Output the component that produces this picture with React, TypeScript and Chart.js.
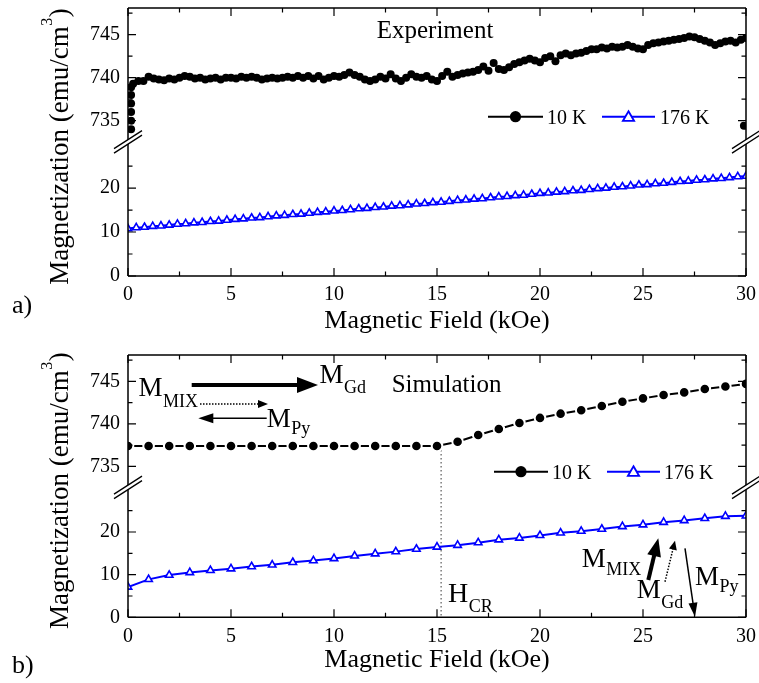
import React, { useEffect, useRef } from 'react';
import { Chart, registerables } from 'chart.js';

Chart.register(...registerables);

const SERIF = '"Liberation Serif", "Times New Roman", Times, serif';
const BLUE = '#0000ff';

// ---------------- data ----------------
const seriesLabels = ['10 K', '176 K'];
const xTickValues = [0, 5, 10, 15, 20, 25, 30];
const xMinorTicks = [2.5, 7.5, 12.5, 17.5, 22.5, 27.5];
const upperTickValues = [735, 740, 745];
const upperMinorTicks = [737.5, 742.5, 747.5];
const lowerTickValues = [0, 10, 20];
const lowerMinorTicks = [5, 15, 25];
const upperRange = [733, 748.1];
const lowerRange = [0, 31.4];

// a) Experiment, 10 K
const expField10 = [
  0.15, 0.15, 0.15, 0.15, 0.15, 0.15,
  0.25, 0.5, 0.75, 1, 1.25, 1.5, 1.75, 2, 2.25, 2.5,
  2.75, 3, 3.25, 3.5, 3.75, 4, 4.25, 4.5, 4.75, 5,
  5.25, 5.5, 5.75, 6, 6.25, 6.5, 6.75, 7, 7.25, 7.5,
  7.75, 8, 8.25, 8.5, 8.75, 9, 9.25, 9.5, 9.75, 10,
  10.25, 10.5, 10.75, 11, 11.25, 11.5, 11.75, 12, 12.25, 12.5,
  12.75, 13, 13.25, 13.5, 13.75, 14, 14.25, 14.5, 14.75, 15,
  15.25, 15.5, 15.75, 16, 16.25, 16.5, 16.75, 17, 17.25, 17.5,
  17.75, 18, 18.25, 18.5, 18.75, 19, 19.25, 19.5, 19.75, 20,
  20.25, 20.5, 20.75, 21, 21.25, 21.5, 21.75, 22, 22.25, 22.5,
  22.75, 23, 23.25, 23.5, 23.75, 24, 24.25, 24.5, 24.75, 25,
  25.25, 25.5, 25.75, 26, 26.25, 26.5, 26.75, 27, 27.25, 27.5,
  27.75, 28, 28.25, 28.5, 28.75, 29, 29.25, 29.5, 29.75, 30,
  29.9,
];
const expM10 = [
  734.0, 735.0, 736.0, 737.0, 738.0, 738.9,
  739.3, 739.6, 739.6, 740.1, 739.9, 739.8, 739.7, 739.9, 739.8, 740.0,
  740.2, 740.1, 739.9, 740.0, 739.8, 739.9, 740.0, 739.8, 740.0, 740.0,
  739.9, 740.1, 740.0, 740.1, 740.0, 739.8, 739.9, 740.0, 739.9, 740.0,
  740.1, 740.0, 740.2, 740.0, 740.2, 739.9, 740.2, 739.8, 740.0, 740.2,
  740.1, 740.3, 740.6, 740.3, 740.1, 739.8, 739.6, 739.8, 740.1, 739.9,
  740.4, 739.9, 739.6, 740.0, 740.4, 740.1, 740.0, 740.2, 739.8, 739.6,
  740.2, 740.7, 740.1, 740.3, 740.5, 740.6, 740.7, 740.9, 741.3, 740.8,
  741.7, 741.0, 740.9, 741.2, 741.6, 741.8, 742.0, 742.2, 742.0, 741.8,
  742.3, 742.5, 741.9, 742.6, 742.8, 742.6, 742.8, 742.9, 743.1, 743.3,
  743.3, 743.5, 743.4, 743.6, 743.5, 743.6, 743.8, 743.6, 743.4, 743.3,
  743.8, 744.0, 744.1, 744.2, 744.3, 744.4, 744.5, 744.6, 744.8, 744.7,
  744.5, 744.3, 744.1, 743.8, 744.0, 744.2, 744.3, 744.1, 744.4, 744.6,
  734.4,
];

// a) Experiment, 176 K
const expField176 = [
  0, 0.4, 0.8, 1.2, 1.6, 2, 2.4, 2.8, 3.2, 3.6,
  4, 4.4, 4.8, 5.2, 5.6, 6, 6.4, 6.8, 7.2, 7.6,
  8, 8.4, 8.8, 9.2, 9.6, 10, 10.4, 10.8, 11.2, 11.6,
  12, 12.4, 12.8, 13.2, 13.6, 14, 14.4, 14.8, 15.2, 15.6,
  16, 16.4, 16.8, 17.2, 17.6, 18, 18.4, 18.8, 19.2, 19.6,
  20, 20.4, 20.8, 21.2, 21.6, 22, 22.4, 22.8, 23.2, 23.6,
  24, 24.4, 24.8, 25.2, 25.6, 26, 26.4, 26.8, 27.2, 27.6,
  28, 28.4, 28.8, 29.2, 29.6, 30,
];
const expM176 = [
  10.8, 11.0, 11.1, 11.3, 11.4, 11.6, 11.8, 11.9, 12.1, 12.2,
  12.4, 12.5, 12.7, 12.9, 13.0, 13.2, 13.3, 13.5, 13.7, 13.8,
  14.0, 14.1, 14.3, 14.5, 14.6, 14.8, 14.9, 15.1, 15.3, 15.4,
  15.6, 15.7, 15.9, 16.0, 16.2, 16.4, 16.5, 16.7, 16.8, 17.0,
  17.2, 17.3, 17.5, 17.6, 17.8, 18.0, 18.1, 18.3, 18.4, 18.6,
  18.8, 18.9, 19.1, 19.2, 19.4, 19.5, 19.7, 19.9, 20.0, 20.2,
  20.3, 20.5, 20.7, 20.8, 21.0, 21.1, 21.3, 21.5, 21.6, 21.8,
  21.9, 22.1, 22.2, 22.4, 22.6, 22.7,
];

// b) Simulation
const simField = [
  0, 1, 2, 3, 4, 5, 6, 7, 8, 9, 10, 11, 12, 13, 14, 15,
  16, 17, 18, 19, 20, 21, 22, 23, 24, 25, 26, 27, 28, 29, 30,
];
const simM10 = [
  737.4, 737.4, 737.4, 737.4, 737.4, 737.4, 737.4, 737.4, 737.4, 737.4, 737.4, 737.4, 737.4, 737.4, 737.4, 737.4,
  737.9, 738.7, 739.4, 740.1, 740.7, 741.2, 741.6, 742.1, 742.6, 743.0, 743.4, 743.7, 744.1, 744.4, 744.7,
];
const simM176 = [
  7.1, 8.9, 9.9, 10.5, 11.0, 11.4, 11.9, 12.3, 12.9, 13.3, 13.8, 14.4, 14.9, 15.4, 16.0, 16.5,
  16.9, 17.5, 18.2, 18.6, 19.2, 19.8, 20.2, 20.7, 21.3, 21.7, 22.3, 22.7, 23.2, 23.7, 23.8,
];
const hcrField = 15.2;

// ---------------- drawing helpers ----------------
const pts = (xs: number[], ys: number[]) => xs.map((x, i) => ({ x, y: ys[i] }));

function txt(ctx: CanvasRenderingContext2D, s: string, x: number, y: number, size: number, align: CanvasTextAlign = 'left') {
  ctx.font = `${size}px ${SERIF}`;
  ctx.textAlign = align;
  ctx.textBaseline = 'alphabetic';
  ctx.fillStyle = '#000';
  ctx.fillText(s, x, y);
}

function subTxt(ctx: CanvasRenderingContext2D, main: string, sub: string, x: number, y: number, mainSize: number, subSize: number, dy: number) {
  txt(ctx, main, x, y, mainSize);
  ctx.font = `${mainSize}px ${SERIF}`;
  const w = ctx.measureText(main).width;
  txt(ctx, sub, x + w + 0.5, y + dy, subSize);
}

function arrow(ctx: CanvasRenderingContext2D, x1: number, y1: number, x2: number, y2: number, lw: number, hl: number, hw: number, dash: number[] = []) {
  const a = Math.atan2(y2 - y1, x2 - x1);
  const bx = x2 - hl * Math.cos(a);
  const by = y2 - hl * Math.sin(a);
  const px = -Math.sin(a);
  const py = Math.cos(a);
  ctx.save();
  ctx.strokeStyle = '#000';
  ctx.fillStyle = '#000';
  ctx.lineWidth = lw;
  ctx.setLineDash(dash);
  ctx.beginPath();
  ctx.moveTo(x1, y1);
  ctx.lineTo(bx + Math.cos(a) * 1, by + Math.sin(a) * 1);
  ctx.stroke();
  ctx.setLineDash([]);
  ctx.beginPath();
  ctx.moveTo(x2, y2);
  ctx.lineTo(bx + px * hw, by + py * hw);
  ctx.lineTo(bx - px * hw, by - py * hw);
  ctx.closePath();
  ctx.fill();
  ctx.restore();
}

function triangle(ctx: CanvasRenderingContext2D, x: number, y: number, r: number) {
  ctx.beginPath();
  ctx.moveTo(x, y - r);
  ctx.lineTo(x + 0.866 * r, y + r / 2);
  ctx.lineTo(x - 0.866 * r, y + r / 2);
  ctx.closePath();
}

function drawLegend(ctx: CanvasRenderingContext2D, y: number, geo: number[][]) {
  // geo: [x1, x2, textX] for each series
  ctx.save();
  geo.forEach((g, i) => {
    const [x1, x2, tx] = g;
    const col = i === 0 ? '#000' : BLUE;
    ctx.strokeStyle = col;
    ctx.lineWidth = 2;
    ctx.beginPath();
    ctx.moveTo(x1, y);
    ctx.lineTo(x2, y);
    ctx.stroke();
    const cx = (x1 + x2) / 2;
    if (i === 0) {
      ctx.fillStyle = '#000';
      ctx.beginPath();
      ctx.arc(cx, y, 5.6, 0, Math.PI * 2);
      ctx.fill();
    } else {
      ctx.fillStyle = '#fff';
      ctx.lineWidth = 1.8;
      triangle(ctx, cx, y + 1, 6.5);
      ctx.fill();
      ctx.stroke();
    }
    txt(ctx, seriesLabels[i], tx, y + 7, 20);
  });
  ctx.restore();
}

type Spec = {
  height: number;
  padTop: number;
  xAxisH: number;
  label: string;
  labelBaseline: number;
  xTitleBaseline: number;
  datasets: any[];
  legendY: number;
  legendGeo: number[][];
  annotate: (chart: any, ctx: CanvasRenderingContext2D) => void;
  under?: (chart: any, ctx: CanvasRenderingContext2D) => void;
};

function framePlugin(spec: Spec) {
  return {
    id: 'frame',
    beforeDatasetsDraw(chart: any) {
      if (spec.under) spec.under(chart, chart.ctx);
    },
    afterDraw(chart: any) {
      const ctx: CanvasRenderingContext2D = chart.ctx;
      const ca = chart.chartArea;
      const xs = chart.scales.x;
      const yH = chart.scales.yHigh;
      const yL = chart.scales.yLow;
      ctx.save();
      // frame
      ctx.strokeStyle = '#000';
      ctx.lineWidth = 1.5;
      ctx.beginPath();
      ctx.moveTo(ca.left, ca.top); ctx.lineTo(ca.right, ca.top);
      ctx.moveTo(ca.left, ca.bottom); ctx.lineTo(ca.right, ca.bottom);
      ctx.moveTo(ca.left, ca.top); ctx.lineTo(ca.left, ca.bottom);
      ctx.moveTo(ca.right, ca.top); ctx.lineTo(ca.right, ca.bottom);
      ctx.stroke();
      // ticks
      ctx.lineWidth = 1.2;
      ctx.beginPath();
      const xt = (v: number, len: number) => {
        const p = xs.getPixelForValue(v);
        ctx.moveTo(p, ca.bottom); ctx.lineTo(p, ca.bottom - len);
        ctx.moveTo(p, ca.top); ctx.lineTo(p, ca.top + len);
      };
      const yt = (sc: any, v: number, len: number) => {
        const p = sc.getPixelForValue(v);
        ctx.moveTo(ca.left, p); ctx.lineTo(ca.left + len, p);
        ctx.moveTo(ca.right, p); ctx.lineTo(ca.right - len, p);
      };
      xTickValues.forEach((v) => xt(v, 8));
      xMinorTicks.forEach((v) => xt(v, 4.5));
      upperTickValues.forEach((v) => yt(yH, v, 8));
      upperMinorTicks.forEach((v) => yt(yH, v, 4.5));
      lowerTickValues.forEach((v) => yt(yL, v, 8));
      lowerMinorTicks.forEach((v) => yt(yL, v, 4.5));
      ctx.stroke();
      // axis breaks
      const by = yH.bottom + 4;
      const dx = 14, dy = 9, gap = 4.5;
      [ca.left, ca.right].forEach((sx) => {
        ctx.fillStyle = '#fff';
        ctx.beginPath();
        ctx.moveTo(sx - dx, by + dy + gap / 2);
        ctx.lineTo(sx + dx, by - dy + gap / 2);
        ctx.lineTo(sx + dx, by - dy - gap / 2);
        ctx.lineTo(sx - dx, by + dy - gap / 2);
        ctx.closePath();
        ctx.fill();
        ctx.strokeStyle = '#000';
        ctx.lineWidth = 1.3;
        ctx.beginPath();
        ctx.moveTo(sx - dx, by + dy + gap / 2);
        ctx.lineTo(sx + dx, by - dy + gap / 2);
        ctx.moveTo(sx - dx, by + dy - gap / 2);
        ctx.lineTo(sx + dx, by - dy - gap / 2);
        ctx.stroke();
      });
      // y title
      ctx.save();
      const cy = (ca.top + ca.bottom) / 2 + 5;
      ctx.translate(68, cy);
      ctx.rotate(-Math.PI / 2);
      ctx.font = `27px ${SERIF}`;
      const m1 = 'Magnetization (emu/cm';
      const w1 = ctx.measureText(m1).width;
      ctx.font = `16px ${SERIF}`;
      const w2 = ctx.measureText('3').width;
      ctx.font = `27px ${SERIF}`;
      const w3 = ctx.measureText(')').width;
      const start = -(w1 + w2 + w3) / 2;
      txt(ctx, m1, start, 0, 27);
      txt(ctx, '3', start + w1 + 0.5, -16, 16);
      txt(ctx, ')', start + w1 + w2 + 1, 0, 27);
      ctx.restore();
      // x title
      txt(ctx, 'Magnetic Field (kOe)', (ca.left + ca.right) / 2, spec.xTitleBaseline, 26, 'center');
      // panel label
      txt(ctx, spec.label, 12, spec.labelBaseline, 26);
      // legend
      drawLegend(ctx, spec.legendY, spec.legendGeo);
      // annotations
      spec.annotate(chart, ctx);
      ctx.restore();
    },
  };
}

function buildConfig(spec: Spec, wHigh: number, wLow: number): any {
  const tickFont = { family: SERIF, size: 20 };
  const yAxis = (range: number[], ticks: number[], sw: number, weight: number) => ({
    type: 'linear',
    position: 'left',
    stack: 'mag',
    stackWeight: sw,
    weight,
    min: range[0],
    max: range[1],
    grid: { display: false, drawTicks: false },
    border: { display: false },
    ticks: { font: tickFont, color: '#000', padding: 8, autoSkip: false },
    afterBuildTicks: (s: any) => { s.ticks = ticks.map((v) => ({ value: v })); },
    afterFit: (s: any) => { s.width = 128; s.paddingTop = 0; s.paddingBottom = 0; },
  });
  return {
    type: 'scatter',
    data: { datasets: spec.datasets },
    options: {
      animation: false,
      responsive: false,
      maintainAspectRatio: false,
      devicePixelRatio: 1,
      events: [],
      layout: { padding: { top: spec.padTop, right: 13, left: 0, bottom: 0 }, autoPadding: false },
      plugins: { legend: { display: false }, tooltip: { enabled: false }, title: { display: false } },
      scales: {
        x: {
          type: 'linear',
          position: 'bottom',
          min: 0,
          max: 30,
          grid: { display: false, drawTicks: false },
          border: { display: false },
          ticks: { font: tickFont, color: '#000', padding: 7, autoSkip: false, maxRotation: 0 },
          afterBuildTicks: (s: any) => { s.ticks = xTickValues.map((v) => ({ value: v })); },
          afterFit: (s: any) => { s.height = spec.xAxisH; s.paddingLeft = 0; s.paddingRight = 0; },
        },
        yLow: yAxis(lowerRange, lowerTickValues, wLow, 0),
        yHigh: yAxis(upperRange, upperTickValues, wHigh, 1),
      },
    },
    plugins: [framePlugin(spec)],
  };
}

const panelA: Spec = {
  height: 340,
  padTop: 8,
  xAxisH: 64,
  label: 'a)',
  labelBaseline: 313,
  xTitleBaseline: 328,
  legendY: 116.7,
  legendGeo: [[488, 543, 547], [602, 655, 660]],
  datasets: [
    {
      label: seriesLabels[0],
      data: pts(expField10, expM10),
      yAxisID: 'yHigh',
      showLine: false,
      pointStyle: 'circle',
      pointRadius: 4,
      pointBackgroundColor: '#000',
      pointBorderColor: '#000',
      pointBorderWidth: 0,
    },
    {
      label: seriesLabels[1],
      data: pts(expField176, expM176),
      yAxisID: 'yLow',
      showLine: true,
      borderColor: BLUE,
      borderWidth: 2,
      tension: 0,
      pointStyle: 'triangle',
      pointRadius: 4.2,
      pointBackgroundColor: '#fff',
      pointBorderColor: BLUE,
      pointBorderWidth: 1.6,
    },
  ],
  annotate: (chart, ctx) => {
    txt(ctx, 'Experiment', 376.7, 38, 25);
  },
};

const panelB: Spec = {
  height: 343,
  padTop: 15,
  xAxisH: 65.7,
  label: 'b)',
  labelBaseline: 333,
  xTitleBaseline: 326.7,
  legendY: 131.7,
  legendGeo: [[494, 548, 552], [607, 660, 664]],
  datasets: [
    {
      label: seriesLabels[0],
      data: pts(simField, simM10),
      yAxisID: 'yHigh',
      showLine: true,
      borderColor: '#000',
      borderWidth: 2,
      tension: 0,
      pointStyle: 'circle',
      pointRadius: 5.3,
      pointBackgroundColor: '#000',
      pointBorderColor: '#fff',
      pointBorderWidth: 2,
    },
    {
      label: seriesLabels[1],
      data: pts(simField, simM176),
      yAxisID: 'yLow',
      showLine: true,
      borderColor: BLUE,
      borderWidth: 2,
      tension: 0,
      pointStyle: 'triangle',
      pointRadius: 4.3,
      pointBackgroundColor: '#fff',
      pointBorderColor: BLUE,
      pointBorderWidth: 1.6,
    },
  ],
  under: (chart, ctx) => {
    const ca = chart.chartArea;
    const px = chart.scales.x.getPixelForValue(hcrField);
    const top = chart.scales.yHigh.getPixelForValue(simM10[simField.indexOf(15)]);
    ctx.save();
    ctx.strokeStyle = '#666';
    ctx.lineWidth = 1.3;
    ctx.setLineDash([1.5, 2.5]);
    ctx.beginPath();
    ctx.moveTo(px, top);
    ctx.lineTo(px, ca.bottom);
    ctx.stroke();
    ctx.restore();
  },
  annotate: (chart, ctx) => {
    txt(ctx, 'Simulation', 391.7, 51.7, 25);
    // top-left moment diagram
    subTxt(ctx, 'M', 'MIX', 138.5, 56, 27, 18, 10.5);
    arrow(ctx, 191.7, 45, 318, 45, 4, 21, 8);
    subTxt(ctx, 'M', 'Gd', 319.5, 43.3, 27, 18, 10);
    arrow(ctx, 200, 64, 268, 64, 1.5, 10, 4, [1.5, 1.5]);
    arrow(ctx, 266.7, 78.3, 198.3, 78.3, 1.5, 15, 5);
    subTxt(ctx, 'M', 'Py', 266.7, 86.7, 27, 18, 7);
    // H_CR
    subTxt(ctx, 'H', 'CR', 448, 261.7, 28, 18, 10);
    // bottom-right moment diagram
    subTxt(ctx, 'M', 'MIX', 581.7, 226.7, 27, 18, 8.3);
    arrow(ctx, 648.3, 240, 658.3, 198.3, 4, 18, 7);
    arrow(ctx, 665, 241.7, 675, 200.7, 1.5, 9, 4, [1.5, 1.5]);
    arrow(ctx, 685, 208.3, 695, 276.7, 1.5, 14, 4.5);
    subTxt(ctx, 'M', 'Gd', 636.7, 258.3, 27, 18, 10);
    subTxt(ctx, 'M', 'Py', 695, 245, 27, 18, 7);
  },
};

function Panel({ spec, top, wHigh, wLow }: { spec: Spec; top: number; wHigh: number; wLow: number }) {
  const ref = useRef<HTMLCanvasElement>(null);
  useEffect(() => {
    const chart = new Chart(ref.current as HTMLCanvasElement, buildConfig(spec, wHigh, wLow));
    return () => chart.destroy();
  }, []);
  return (
    <canvas
      ref={ref}
      width={759}
      height={spec.height}
      style={{ position: 'absolute', left: 0, top, width: 759, height: spec.height, display: 'block' }}
    />
  );
}

export default function App() {
  return (
    <div style={{ position: 'absolute', left: 0, top: 0, width: 759, height: 683, background: '#fff', overflow: 'hidden' }}>
      <Panel spec={panelA} top={0} wHigh={129.9} wLow={138.1} />
      <Panel spec={panelB} top={340} wHigh={128.4} wLow={133.9} />
    </div>
  );
}
